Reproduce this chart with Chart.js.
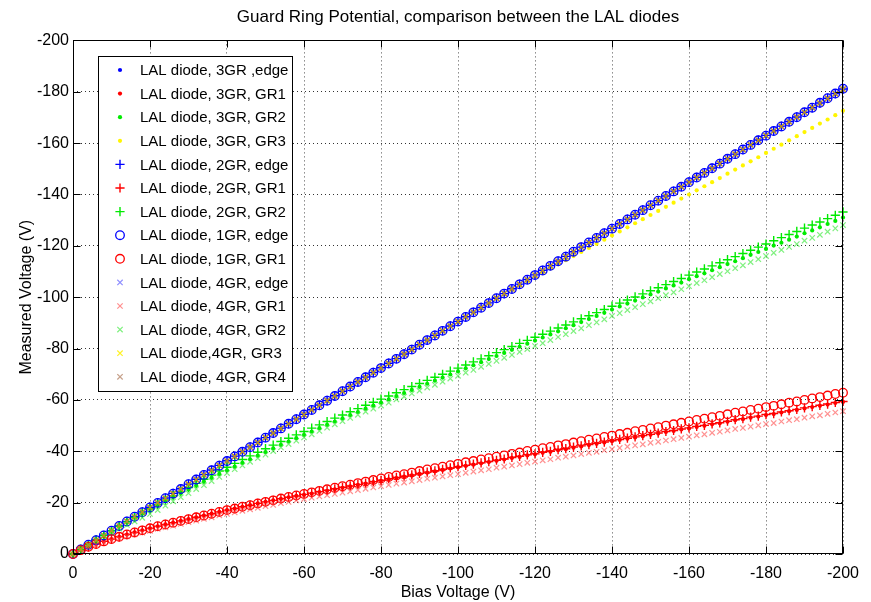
<!DOCTYPE html>
<html><head><meta charset="utf-8">
<script src="https://cdn.jsdelivr.net/npm/chart.js@4/dist/chart.umd.min.js"></script>
<style>html,body{margin:0;padding:0;background:#fff;}canvas{display:block;}</style>
</head><body>
<canvas id="c" width="871" height="602"></canvas>
<script>
const bias = [0,-2,-4,-6,-8,-10,-12,-14,-16,-18,-20,-22,-24,-26,-28,-30,-32,-34,-36,-38,-40,-42,-44,-46,-48,-50,-52,-54,-56,-58,-60,-62,-64,-66,-68,-70,-72,-74,-76,-78,-80,-82,-84,-86,-88,-90,-92,-94,-96,-98,-100,-102,-104,-106,-108,-110,-112,-114,-116,-118,-120,-122,-124,-126,-128,-130,-132,-134,-136,-138,-140,-142,-144,-146,-148,-150,-152,-154,-156,-158,-160,-162,-164,-166,-168,-170,-172,-174,-176,-178,-180,-182,-184,-186,-188,-190,-192,-194,-196,-198,-200];

const gr3Edge = [0,-1.8,-3.6,-5.4,-7.2,-9.1,-10.9,-12.7,-14.5,-16.3,-18.1,-19.9,-21.7,-23.5,-25.3,-27.2,-29.0,-30.8,-32.6,-34.4,-36.2,-38.0,-39.8,-41.6,-43.4,-45.3,-47.1,-48.9,-50.7,-52.5,-54.3,-56.1,-57.9,-59.7,-61.5,-63.4,-65.2,-67.0,-68.8,-70.6,-72.4,-74.2,-76.0,-77.8,-79.6,-81.5,-83.3,-85.1,-86.9,-88.7,-90.5,-92.3,-94.1,-95.9,-97.7,-99.6,-101.4,-103.2,-105.0,-106.8,-108.6,-110.4,-112.2,-114.0,-115.8,-117.7,-119.5,-121.3,-123.1,-124.9,-126.7,-128.5,-130.3,-132.1,-133.9,-135.8,-137.6,-139.4,-141.2,-143.0,-144.8,-146.6,-148.4,-150.2,-152.0,-153.9,-155.7,-157.5,-159.3,-161.1,-162.9,-164.7,-166.5,-168.3,-170.1,-172.0,-173.8,-175.6,-177.4,-179.2,-181.0];
const gr3Gr1 = [0,-1.5,-2.8,-3.9,-4.9,-5.8,-6.7,-7.6,-8.4,-9.2,-10.0,-10.8,-11.5,-12.2,-12.9,-13.6,-14.3,-15.0,-15.7,-16.4,-17.1,-17.7,-18.4,-19.0,-19.7,-20.3,-20.9,-21.5,-22.1,-22.6,-23.0,-23.5,-24.1,-24.6,-25.2,-25.8,-26.3,-26.9,-27.4,-28.0,-28.5,-29.1,-29.6,-30.1,-30.6,-31.2,-31.7,-32.2,-32.8,-33.3,-33.8,-34.3,-34.8,-35.3,-35.8,-36.3,-36.8,-37.4,-37.8,-38.4,-38.8,-39.4,-39.8,-40.4,-40.8,-41.4,-41.9,-42.4,-42.9,-43.4,-43.9,-44.4,-44.9,-45.4,-45.9,-46.4,-46.9,-47.5,-47.9,-48.5,-48.9,-49.5,-49.9,-50.5,-50.9,-51.5,-52.1,-52.5,-53.1,-53.5,-54.1,-54.5,-55.1,-55.6,-56.1,-56.7,-57.2,-57.7,-58.2,-58.8,-59.2];
const gr3Gr2 = [0,-1.8,-3.6,-5.4,-7.2,-9.0,-10.8,-12.5,-14.2,-15.8,-17.4,-19.0,-20.6,-22.2,-23.7,-25.2,-26.7,-28.2,-29.7,-31.2,-32.6,-34.0,-35.5,-36.9,-38.3,-39.7,-41.1,-42.5,-43.8,-45.1,-46.4,-47.7,-49.0,-50.3,-51.6,-52.8,-54.1,-55.3,-56.6,-57.8,-59.0,-60.2,-61.5,-62.7,-63.9,-65.1,-66.3,-67.5,-68.7,-69.9,-71.1,-72.3,-73.5,-74.7,-75.9,-77.1,-78.3,-79.5,-80.7,-81.9,-83.1,-84.3,-85.5,-86.7,-87.9,-89.1,-90.3,-91.5,-92.7,-93.9,-95.2,-96.4,-97.5,-98.7,-99.9,-101.1,-102.2,-103.4,-104.6,-105.7,-107.0,-108.2,-109.3,-110.5,-111.7,-112.9,-114.0,-115.2,-116.5,-117.6,-118.8,-120.1,-121.2,-122.4,-123.6,-124.9,-126.0,-127.2,-128.5,-129.7,-131.0];
const gr3Gr3 = [0,-1.8,-3.6,-5.4,-7.2,-9.1,-10.9,-12.7,-14.5,-16.3,-18.1,-19.9,-21.7,-23.5,-25.3,-27.2,-29.0,-30.8,-32.6,-34.4,-36.2,-38.0,-39.8,-41.6,-43.4,-45.3,-47.1,-48.9,-50.7,-52.5,-54.3,-56.1,-57.9,-59.7,-61.5,-63.4,-65.2,-67.0,-68.8,-70.6,-72.4,-74.2,-76.0,-77.8,-79.6,-81.5,-83.3,-85.1,-86.9,-88.7,-90.5,-92.3,-94.1,-95.9,-97.6,-99.4,-101.1,-102.8,-104.5,-106.2,-107.9,-109.6,-111.2,-112.8,-114.4,-116.0,-117.6,-119.2,-120.8,-122.4,-124.0,-125.6,-127.2,-128.8,-130.4,-132.0,-133.6,-135.2,-136.8,-138.4,-140.0,-141.6,-143.2,-144.8,-146.4,-148.1,-149.7,-151.3,-152.9,-154.5,-156.2,-157.8,-159.4,-161.1,-162.7,-164.3,-165.9,-167.6,-169.2,-170.9,-172.6];
const gr2Edge = [0,-1.8,-3.7,-5.5,-7.3,-9.1,-10.9,-12.7,-14.6,-16.4,-18.2,-20.0,-21.8,-23.6,-25.4,-27.2,-29.1,-30.9,-32.7,-34.5,-36.3,-38.1,-39.9,-41.7,-43.5,-45.3,-47.1,-49.0,-50.8,-52.6,-54.4,-56.2,-58.0,-59.8,-61.6,-63.4,-65.2,-67.1,-68.9,-70.7,-72.5,-74.3,-76.1,-77.9,-79.7,-81.5,-83.3,-85.2,-87.0,-88.8,-90.6,-92.4,-94.2,-96.0,-97.8,-99.6,-101.4,-103.3,-105.1,-106.9,-108.7,-110.5,-112.3,-114.1,-115.9,-117.7,-119.5,-121.3,-123.2,-125.0,-126.8,-128.6,-130.4,-132.2,-134.0,-135.8,-137.6,-139.4,-141.3,-143.1,-144.9,-146.7,-148.5,-150.3,-152.1,-153.9,-155.7,-157.5,-159.4,-161.2,-163.0,-164.8,-166.6,-168.4,-170.2,-172.0,-173.8,-175.6,-177.5,-179.3,-181.1];
const gr2Gr1 = [0,-1.5,-2.8,-3.9,-4.9,-5.8,-6.7,-7.6,-8.4,-9.2,-10.0,-10.8,-11.5,-12.2,-12.9,-13.6,-14.3,-15.0,-15.7,-16.4,-17.1,-17.7,-18.4,-19.0,-19.7,-20.3,-20.9,-21.5,-22.1,-22.6,-23.2,-23.7,-24.3,-24.8,-25.4,-26.0,-26.5,-27.1,-27.6,-28.2,-28.7,-29.3,-29.8,-30.3,-30.8,-31.4,-31.9,-32.4,-33.0,-33.5,-34.0,-34.5,-35.0,-35.5,-36.0,-36.5,-37.0,-37.6,-38.0,-38.6,-39.0,-39.6,-40.0,-40.6,-41.0,-41.6,-42.1,-42.6,-43.1,-43.6,-44.1,-44.6,-45.1,-45.6,-46.1,-46.6,-47.1,-47.7,-48.1,-48.7,-49.1,-49.7,-50.1,-50.7,-51.1,-51.7,-52.3,-52.7,-53.3,-53.7,-54.3,-54.7,-55.3,-55.8,-56.3,-56.9,-57.4,-57.9,-58.4,-59.0,-59.4];
const gr2Gr2 = [0,-1.8,-3.6,-5.4,-7.2,-9.0,-10.8,-12.5,-14.2,-15.9,-17.6,-19.3,-21.0,-22.7,-24.3,-25.9,-27.5,-29.1,-30.7,-32.3,-33.8,-35.3,-36.8,-38.2,-39.6,-41.0,-42.4,-43.8,-45.1,-46.4,-47.7,-49.0,-50.3,-51.6,-52.9,-54.1,-55.4,-56.6,-57.9,-59.1,-60.3,-61.5,-62.8,-64.0,-65.2,-66.4,-67.6,-68.8,-70.0,-71.2,-72.4,-73.6,-74.8,-76.0,-77.2,-78.4,-79.6,-80.8,-82.0,-83.2,-84.4,-85.6,-86.8,-88.0,-89.2,-90.4,-91.6,-92.8,-94.0,-95.2,-96.5,-97.7,-98.9,-100.1,-101.3,-102.5,-103.7,-104.9,-106.1,-107.3,-108.6,-109.8,-111.0,-112.2,-113.4,-114.6,-115.8,-117.0,-118.3,-119.5,-120.7,-122.0,-123.2,-124.4,-125.6,-126.9,-128.1,-129.3,-130.6,-131.9,-133.2];
const gr1Edge = [0,-1.8,-3.6,-5.4,-7.2,-9.1,-10.9,-12.7,-14.5,-16.3,-18.1,-19.9,-21.7,-23.5,-25.3,-27.2,-29.0,-30.8,-32.6,-34.4,-36.2,-38.0,-39.8,-41.6,-43.4,-45.3,-47.1,-48.9,-50.7,-52.5,-54.3,-56.1,-57.9,-59.7,-61.5,-63.4,-65.2,-67.0,-68.8,-70.6,-72.4,-74.2,-76.0,-77.8,-79.6,-81.5,-83.3,-85.1,-86.9,-88.7,-90.5,-92.3,-94.1,-95.9,-97.7,-99.6,-101.4,-103.2,-105.0,-106.8,-108.6,-110.4,-112.2,-114.0,-115.8,-117.7,-119.5,-121.3,-123.1,-124.9,-126.7,-128.5,-130.3,-132.1,-133.9,-135.8,-137.6,-139.4,-141.2,-143.0,-144.8,-146.6,-148.4,-150.2,-152.0,-153.9,-155.7,-157.5,-159.3,-161.1,-162.9,-164.7,-166.5,-168.3,-170.1,-172.0,-173.8,-175.7,-177.5,-179.3,-181.2];
const gr1Gr1 = [0,-1.5,-2.8,-3.9,-4.9,-5.8,-6.7,-7.6,-8.4,-9.2,-10.0,-10.8,-11.5,-12.2,-12.9,-13.6,-14.3,-15.0,-15.7,-16.4,-17.1,-17.7,-18.4,-19.0,-19.7,-20.3,-20.9,-21.6,-22.2,-22.8,-23.4,-24.0,-24.6,-25.2,-25.8,-26.4,-27.0,-27.6,-28.2,-28.8,-29.4,-30.0,-30.6,-31.1,-31.7,-32.3,-32.9,-33.4,-34.0,-34.6,-35.1,-35.7,-36.2,-36.8,-37.3,-37.9,-38.4,-39.0,-39.5,-40.1,-40.6,-41.2,-41.7,-42.3,-42.8,-43.4,-43.9,-44.5,-45.0,-45.6,-46.1,-46.7,-47.2,-47.8,-48.3,-48.9,-49.4,-50.0,-50.5,-51.1,-51.6,-52.2,-52.7,-53.3,-53.8,-54.4,-55.0,-55.5,-56.1,-56.6,-57.2,-57.7,-58.3,-58.9,-59.4,-60.0,-60.6,-61.1,-61.7,-62.3,-62.8];
const gr4Edge = [0,-1.8,-3.7,-5.5,-7.3,-9.1,-10.9,-12.7,-14.6,-16.4,-18.2,-20.0,-21.8,-23.6,-25.4,-27.2,-29.1,-30.9,-32.7,-34.5,-36.3,-38.1,-39.9,-41.7,-43.5,-45.3,-47.1,-49.0,-50.8,-52.6,-54.4,-56.2,-58.0,-59.8,-61.6,-63.4,-65.2,-67.1,-68.9,-70.7,-72.5,-74.3,-76.1,-77.9,-79.7,-81.5,-83.3,-85.2,-87.0,-88.8,-90.6,-92.4,-94.2,-96.0,-97.8,-99.6,-101.4,-103.3,-105.1,-106.9,-108.7,-110.5,-112.3,-114.1,-115.9,-117.7,-119.5,-121.3,-123.2,-125.0,-126.8,-128.6,-130.4,-132.2,-134.0,-135.8,-137.6,-139.4,-141.3,-143.1,-144.9,-146.7,-148.5,-150.3,-152.1,-153.9,-155.7,-157.5,-159.4,-161.2,-163.0,-164.8,-166.6,-168.4,-170.2,-172.0,-173.8,-175.6,-177.5,-179.3,-181.1];
const gr4Gr1 = [0,-1.4,-2.6,-3.6,-4.5,-5.3,-6.1,-6.9,-7.6,-8.3,-9.0,-9.8,-10.4,-11.0,-11.7,-12.4,-13.0,-13.7,-14.3,-15.0,-15.6,-16.2,-16.8,-17.4,-18.0,-18.6,-19.1,-19.8,-20.3,-20.9,-21.4,-21.9,-22.4,-22.9,-23.4,-23.9,-24.4,-24.9,-25.4,-25.9,-26.4,-26.9,-27.4,-27.8,-28.3,-28.8,-29.3,-29.7,-30.2,-30.7,-31.1,-31.6,-32.1,-32.6,-33.0,-33.6,-34.0,-34.5,-35.0,-35.5,-36.0,-36.5,-36.9,-37.5,-37.9,-38.4,-38.9,-39.4,-39.8,-40.4,-40.8,-41.3,-41.8,-42.3,-42.7,-43.3,-43.7,-44.2,-44.7,-45.2,-45.7,-46.2,-46.6,-47.2,-47.6,-48.1,-48.7,-49.1,-49.6,-50.1,-50.6,-51.0,-51.6,-52.1,-52.5,-53.1,-53.6,-54.0,-54.6,-55.1,-55.6];
const gr4Gr2 = [0,-1.8,-3.6,-5.4,-6.9,-8.4,-9.9,-11.3,-12.7,-14.1,-15.6,-17.1,-18.8,-20.5,-22.1,-23.7,-25.3,-26.8,-28.4,-30.0,-31.5,-33.0,-34.5,-35.9,-37.3,-38.7,-40.1,-41.5,-42.8,-44.1,-45.4,-46.6,-47.9,-49.2,-50.5,-51.7,-53.0,-54.2,-55.4,-56.6,-57.8,-58.9,-60.2,-61.3,-62.5,-63.6,-64.8,-65.9,-67.1,-68.3,-69.4,-70.6,-71.7,-72.9,-74.0,-75.2,-76.4,-77.5,-78.7,-79.8,-81.0,-82.1,-83.3,-84.5,-85.6,-86.8,-87.9,-89.1,-90.2,-91.4,-92.7,-93.8,-95.0,-96.1,-97.3,-98.4,-99.6,-100.8,-101.9,-103.1,-104.3,-105.5,-106.6,-107.8,-109.0,-110.1,-111.3,-112.4,-113.7,-114.8,-116.0,-117.3,-118.4,-119.6,-120.7,-122.0,-123.1,-124.3,-125.5,-126.8,-128.1];
const gr4Gr3 = [0,-1.8,-3.6,-5.4,-7.2,-9.1,-10.9,-12.7,-14.5,-16.3,-18.1,-19.9,-21.7,-23.5,-25.3,-27.2,-29.0,-30.8,-32.6,-34.4,-36.2,-38.0,-39.8,-41.6,-43.4,-45.3,-47.1,-48.9,-50.7,-52.5,-54.3,-56.1,-57.9,-59.7,-61.5,-63.4,-65.2,-67.0,-68.8,-70.6,-72.4,-74.2,-76.0,-77.8,-79.6,-81.5,-83.3,-85.1,-86.9,-88.7,-90.5,-92.3,-94.1,-95.9,-97.7,-99.6,-101.4,-103.2,-105.0,-106.8,-108.6,-110.4,-112.2,-114.0,-115.8,-117.7,-119.5,-121.3,-123.1,-124.9,-126.7,-128.5,-130.3,-132.1,-133.9,-135.8,-137.6,-139.4,-141.2,-143.0,-144.8,-146.6,-148.4,-150.2,-152.0,-153.9,-155.7,-157.5,-159.3,-161.1,-162.9,-164.7,-166.5,-168.3,-170.1,-172.0,-173.8,-175.6,-177.4,-179.2,-181.0];
const gr4Gr4 = [0,-1.8,-3.6,-5.4,-7.2,-9.1,-10.9,-12.7,-14.5,-16.3,-18.1,-19.9,-21.7,-23.5,-25.3,-27.2,-29.0,-30.8,-32.6,-34.4,-36.2,-38.0,-39.8,-41.6,-43.4,-45.3,-47.1,-48.9,-50.7,-52.5,-54.3,-56.1,-57.9,-59.7,-61.5,-63.4,-65.2,-67.0,-68.8,-70.6,-72.4,-74.2,-76.0,-77.8,-79.6,-81.5,-83.3,-85.1,-86.9,-88.7,-90.5,-92.3,-94.1,-95.9,-97.7,-99.6,-101.4,-103.2,-105.0,-106.8,-108.6,-110.4,-112.2,-114.0,-115.8,-117.7,-119.5,-121.3,-123.1,-124.9,-126.7,-128.5,-130.3,-132.1,-133.9,-135.8,-137.6,-139.4,-141.2,-143.0,-144.8,-146.6,-148.4,-150.2,-152.0,-153.9,-155.7,-157.5,-159.3,-161.1,-162.9,-164.7,-166.5,-168.3,-170.1,-172.0,-173.8,-175.6,-177.4,-179.2,-181.0];

const seriesNames = ['LAL diode, 3GR ,edge','LAL diode, 3GR, GR1','LAL diode, 3GR, GR2','LAL diode, 3GR, GR3','LAL diode, 2GR, edge','LAL diode, 2GR, GR1','LAL diode, 2GR, GR2','LAL diode, 1GR, edge','LAL diode, 1GR, GR1','LAL diode, 4GR, edge','LAL diode, 4GR, GR1','LAL diode, 4GR, GR2','LAL diode,4GR, GR3','LAL diode, 4GR, GR4'];
const seriesValues = [gr3Edge,gr3Gr1,gr3Gr2,gr3Gr3,gr2Edge,gr2Gr1,gr2Gr2,gr1Edge,gr1Gr1,gr4Edge,gr4Gr1,gr4Gr2,gr4Gr3,gr4Gr4];
const xAxisTitle = 'Bias Voltage (V)';
const yAxisTitle = 'Measured Voltage (V)';
const chartTitle = 'Guard Ring Potential, comparison between the LAL diodes';

const FONT = "'Liberation Sans', Arial, Helvetica, sans-serif";
const BLUE='rgb(0,0,255)', RED='rgb(255,0,0)', GREEN='rgb(0,235,0)', YEL='rgb(255,245,0)';
const styles = [
  {ps:'circle', r:2.1, bw:0, bg:BLUE, bc:BLUE},
  {ps:'circle', r:2.1, bw:0, bg:RED, bc:RED},
  {ps:'circle', r:2.1, bw:0, bg:GREEN, bc:GREEN},
  {ps:'circle', r:2.1, bw:0, bg:YEL, bc:YEL},
  {ps:'cross', r:4.6, bw:1.4, bg:BLUE, bc:BLUE},
  {ps:'cross', r:4.6, bw:1.4, bg:RED, bc:RED},
  {ps:'cross', r:4.6, bw:1.4, bg:GREEN, bc:GREEN},
  {ps:'circle', r:4.3, bw:1.3, bg:'rgba(0,0,0,0)', bc:BLUE},
  {ps:'circle', r:4.3, bw:1.3, bg:'rgba(0,0,0,0)', bc:RED},
  {ps:'crossRot', r:3.8, bw:1.2, bg:'rgba(0,0,0,0)', bc:'rgba(70,70,255,0.6)'},
  {ps:'crossRot', r:3.8, bw:1.2, bg:'rgba(0,0,0,0)', bc:'rgba(255,70,70,0.6)'},
  {ps:'crossRot', r:3.8, bw:1.2, bg:'rgba(0,0,0,0)', bc:'rgba(40,230,40,0.6)'},
  {ps:'crossRot', r:3.8, bw:1.2, bg:'rgba(0,0,0,0)', bc:'rgba(255,240,0,0.85)'},
  {ps:'crossRot', r:3.8, bw:1.2, bg:'rgba(0,0,0,0)', bc:'rgba(150,80,40,0.55)'}
];

const datasets = seriesValues.map((vals, i) => ({
  label: seriesNames[i],
  data: bias.map((b, j) => ({x: b, y: vals[j]})),
  showLine: false,
  pointStyle: styles[i].ps,
  pointRadius: styles[i].r,
  pointHoverRadius: styles[i].r,
  pointBorderWidth: styles[i].bw,
  pointBackgroundColor: styles[i].bg,
  pointBorderColor: styles[i].bc,
  order: seriesValues.length - i,
  clip: false
}));

const framePlugin = {
  id: 'frame',
  afterDatasetsDraw(chart) {
    const {ctx, chartArea: a, scales: {x, y}} = chart;
    ctx.save();
    ctx.strokeStyle = '#000';
    ctx.lineWidth = 1;
    const L = Math.round(a.left) + 0.5, R = Math.round(a.right) - 0.5, T = Math.round(a.top) + 0.5, B = Math.round(a.bottom) - 0.5;
    ctx.strokeRect(L, T, R - L, B - T);
    ctx.beginPath();
    x.ticks.forEach(t => {
      const px = Math.round(x.getPixelForValue(t.value)) + 0.5;
      ctx.moveTo(px, B); ctx.lineTo(px, B - 7);
      ctx.moveTo(px, T); ctx.lineTo(px, T + 7);
    });
    y.ticks.forEach(t => {
      const py = Math.round(y.getPixelForValue(t.value)) + 0.5;
      ctx.moveTo(L, py); ctx.lineTo(L + 7, py);
      ctx.moveTo(R, py); ctx.lineTo(R - 7, py);
    });
    ctx.stroke();
    ctx.restore();
  }
};

const legendPlugin = {
  id: 'boxLegend',
  afterDraw(chart) {
    const ctx = chart.ctx;
    const bx = 98.5, by = 56.5, bw = 194, bh = 335;
    const y0 = 70, dy = 23.6, mx = 120, tx = 140;
    ctx.save();
    ctx.fillStyle = '#fff';
    ctx.fillRect(bx, by, bw, bh);
    ctx.strokeStyle = '#000';
    ctx.lineWidth = 1;
    ctx.strokeRect(bx, by, bw, bh);
    chart.data.datasets.forEach((ds, i) => {
      const yy = y0 + i * dy;
      ctx.fillStyle = ds.pointBackgroundColor;
      ctx.strokeStyle = ds.pointBorderColor;
      ctx.lineWidth = ds.pointBorderWidth;
      Chart.helpers.drawPoint(ctx, {pointStyle: ds.pointStyle, radius: ds.pointRadius, borderWidth: ds.pointBorderWidth, rotation: 0}, mx, yy);
      ctx.fillStyle = '#000';
      ctx.font = '15px ' + FONT;
      ctx.textAlign = 'left';
      ctx.textBaseline = 'middle';
      ctx.fillText(ds.label, tx, yy + 1);
    });
    ctx.restore();
  }
};

new Chart(document.getElementById('c'), {
  type: 'scatter',
  data: {datasets},
  options: {
    responsive: false,
    animation: false,
    events: [],
    layout: {padding: {left: 0, right: 28, top: 0, bottom: 0}},
    plugins: {
      legend: {display: false},
      tooltip: {enabled: false},
      title: {display: true, fullSize: false, text: chartTitle, color: '#000', font: {family: FONT, size: 17, weight: 'normal'}, padding: {top: 7, bottom: 13}}
    },
    scales: {
      x: {
        type: 'linear', min: -200, max: 0, reverse: true,
        ticks: {stepSize: 20, color: '#000', font: {family: FONT, size: 16}, padding: 10, maxRotation: 0, autoSkip: false},
        grid: {color: 'rgba(0,0,0,0.7)', drawTicks: false, lineWidth: 1},
        border: {display: false, dash: [1, 3]},
        title: {display: true, text: xAxisTitle, color: '#000', font: {family: FONT, size: 16}, padding: {top: 0, bottom: 0}},
        afterFit(s) { s.height = 48; }
      },
      y: {
        type: 'linear', min: -200, max: 0, reverse: true,
        ticks: {stepSize: 20, color: '#000', font: {family: FONT, size: 16}, padding: 4, autoSkip: false},
        grid: {color: 'rgba(0,0,0,0.8)', drawTicks: false, lineWidth: 1},
        border: {display: false, dash: [1, 3]},
        title: {display: true, text: yAxisTitle, color: '#000', font: {family: FONT, size: 16}, padding: {top: 17, bottom: 0}},
        afterFit(s) { s.width = 73; }
      }
    }
  },
  plugins: [framePlugin, legendPlugin]
});
</script>
</body></html>
